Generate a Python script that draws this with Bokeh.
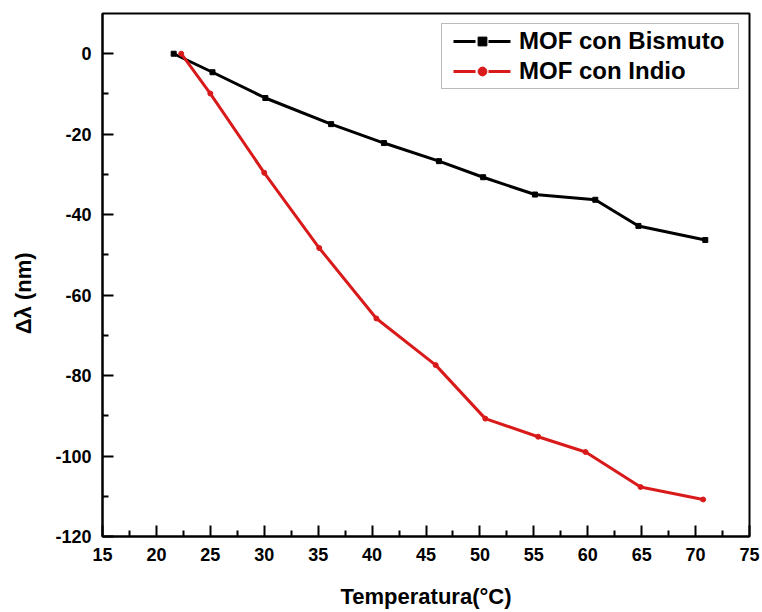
import math
from bokeh.plotting import figure
from bokeh.models import Legend, LegendItem, ColumnDataSource, FixedTicker
from bokeh.embed import file_html
from bokeh.resources import INLINE

# Temperature (°C) and wavelength shift (nm) for each MOF
temp_bi = [21.6, 25.2, 30.1, 36.2, 41.1, 46.2, 50.3, 55.1, 60.7, 64.7, 70.9]
shift_bi = [0.0, -4.6, -11.0, -17.5, -22.2, -26.7, -30.7, -35.0, -36.3, -42.8, -46.3]

temp_in = [22.3, 25.0, 30.0, 35.1, 40.4, 45.9, 50.5, 55.4, 59.8, 64.9, 70.7]
shift_in = [0.0, -9.9, -29.6, -48.3, -65.8, -77.4, -90.7, -95.2, -99.0, -107.7, -110.8]

x_ticks = [15, 20, 25, 30, 35, 40, 45, 50, 55, 60, 65, 70, 75]
y_ticks = [0, -20, -40, -60, -80, -100, -120]

FONT = "Liberation Sans"
RED = "#d91a1a"


def midpoints(ticks):
    t = sorted(ticks)
    return [(a + b) / 2 for a, b in zip(t[:-1], t[1:])]


p = figure(width=762, height=612, x_range=(15, 75), y_range=(-120, 10),
           output_backend="svg", toolbar_location=None,
           min_border_left=102, min_border_right=13,
           min_border_top=13, min_border_bottom=76)

p.background_fill_color = "white"
p.border_fill_color = "white"
p.outline_line_color = "black"
p.outline_line_width = 2
p.xgrid.visible = False
p.ygrid.visible = False

# Data series
p.line(temp_bi, shift_bi, line_color="black", line_width=3)
p.scatter(temp_bi, shift_bi, marker="square", size=5, color="black")
p.line(temp_in, shift_in, line_color=RED, line_width=3)
p.scatter(temp_in, shift_in, marker="circle", size=5, color=RED)

# Legend glyphs (dash-dot line with a small marker); these sources hold no visible point
blank = ColumnDataSource(dict(x=[math.nan], y=[math.nan]))
DASH = "0 8 22 6 1 6 22 8"
lb = p.line("x", "y", source=blank, line_color="black", line_width=3, line_dash=DASH)
sb = p.scatter("x", "y", source=blank, marker="square", size=4, color="black")
lr = p.line("x", "y", source=blank, line_color=RED, line_width=3, line_dash=DASH)
sr = p.scatter("x", "y", source=blank, marker="circle", size=4, color=RED)

legend = Legend(items=[
    LegendItem(label="MOF con Bismuto", renderers=[lb, sb]),
    LegendItem(label="MOF con Indio", renderers=[lr, sr]),
], location="top_right")
legend.label_text_font = FONT
legend.label_text_font_style = "bold"
legend.label_text_font_size = "24px"
legend.label_text_color = "black"
legend.glyph_width = 74
legend.glyph_height = 22
legend.label_height = 22
legend.label_width = 216
legend.label_standoff = 0
legend.spacing = 2
legend.padding = 3
legend.margin = 10
legend.border_line_color = "#777777"
legend.border_line_width = 1
legend.background_fill_color = "white"
legend.background_fill_alpha = 1
p.add_layout(legend)

# Axes with inward major and minor ticks
p.xaxis.ticker = FixedTicker(ticks=x_ticks, minor_ticks=midpoints(x_ticks))
p.yaxis.ticker = FixedTicker(ticks=y_ticks, minor_ticks=midpoints(y_ticks))
p.xaxis.major_label_overrides = {t: str(t) for t in x_ticks}
p.yaxis.major_label_overrides = {t: str(t) for t in y_ticks}

for ax in (p.xaxis[0], p.yaxis[0]):
    ax.axis_line_width = 2
    ax.axis_line_color = "black"
    ax.major_tick_in = 11
    ax.major_tick_out = 0
    ax.minor_tick_in = 6
    ax.minor_tick_out = 0
    ax.major_tick_line_width = 2
    ax.minor_tick_line_width = 2
    ax.major_tick_line_color = "black"
    ax.minor_tick_line_color = "black"
    ax.major_label_text_font = FONT
    ax.major_label_text_font_style = "bold"
    ax.major_label_text_font_size = "18px"
    ax.major_label_text_color = "black"
    ax.axis_label_text_font = FONT
    ax.axis_label_text_font_style = "bold"
    ax.axis_label_text_font_size = "22px"
    ax.axis_label_text_color = "black"

p.xaxis.axis_label = "Temperatura(°C)"
p.yaxis.axis_label = "Δλ (nm)" + "\u00a0" * 6
p.xaxis.major_label_standoff = 11
p.yaxis.major_label_standoff = 11
p.xaxis.axis_label_standoff = 20
p.yaxis.axis_label_standoff = 16

open("out.html", "w").write(file_html(p, INLINE))
